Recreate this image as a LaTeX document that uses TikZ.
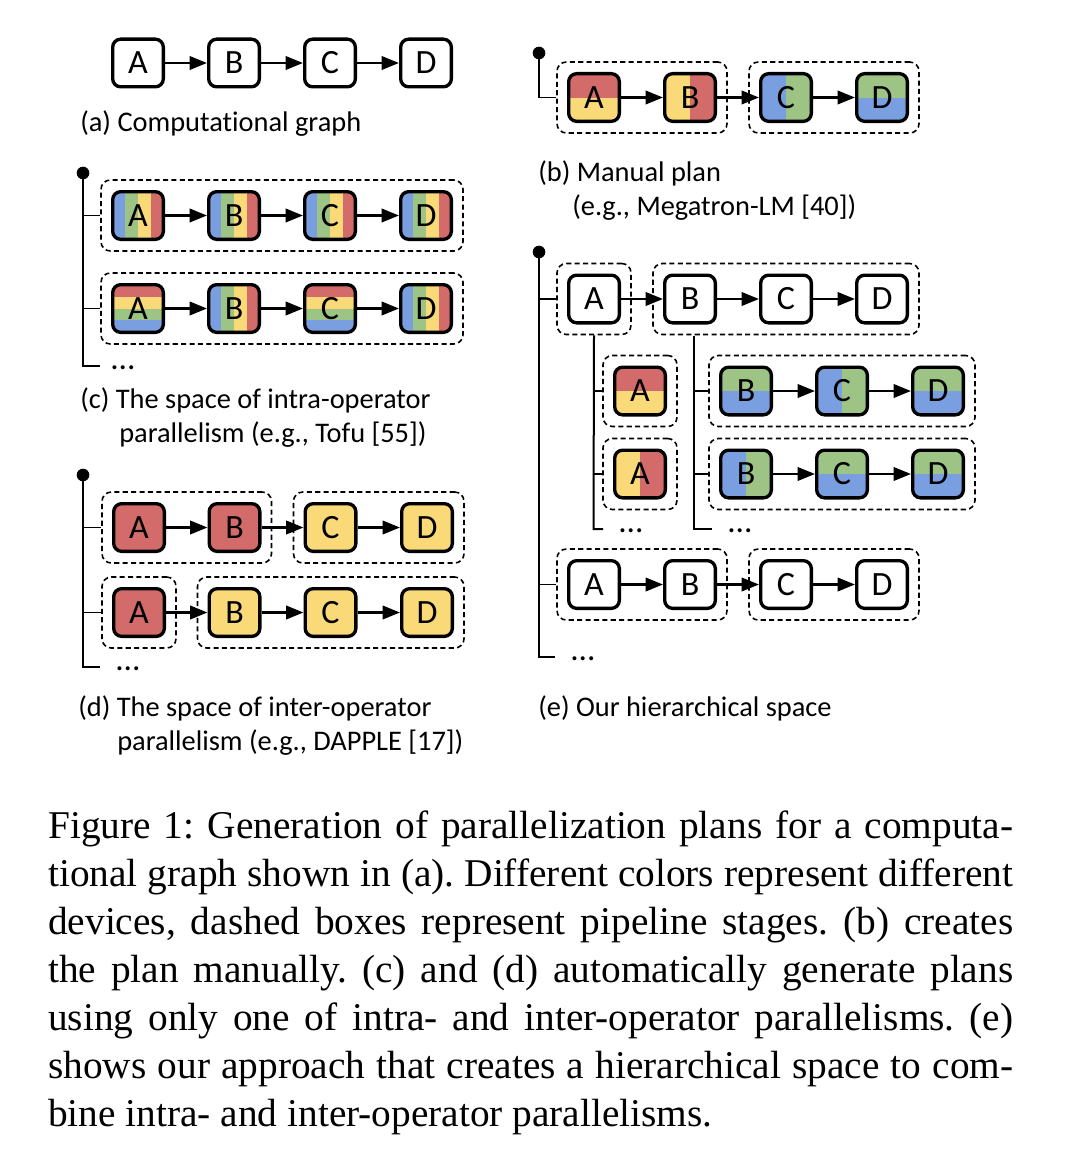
\documentclass[tikz,border=0pt]{standalone}
\usepackage{fontspec}
\setmainfont{Carlito}[Ligatures=NoCommon]
\newfontfamily\captionfnt{Liberation Serif}
\frenchspacing
\usetikzlibrary{arrows.meta,fit,calc}
\definecolor{cred}{RGB}{210,107,106}
\definecolor{cyel}{RGB}{249,217,120}
\definecolor{cgrn}{RGB}{158,196,133}
\definecolor{cblu}{RGB}{122,159,225}
\newcommand\opfnt{\fontsize{25.5}{30}\selectfont}
\newcommand\lblfnt{\fontsize{21.3}{25}\selectfont}
\def\pb{path picture bounding box}
\tikzset{
  op/.style={draw, line width=2.5pt, rounded corners=6pt, minimum width=38pt,
    minimum height=35.75pt, inner sep=0pt, font=\opfnt, fill=white},
  redbox/.style={fill=cred},
  yelbox/.style={fill=cyel},
  sq/.style={sharp corners},
  vsplit/.style n args={2}{path picture={
    \fill[#1,sq] (\pb.south west) rectangle (\pb.north);
    \fill[#2,sq] (\pb.south) rectangle (\pb.north east);}},
  hsplit/.style n args={2}{path picture={
    \fill[#1,sq] (\pb.north west) rectangle (\pb.east);
    \fill[#2,sq] (\pb.west) rectangle (\pb.south east);}},
  vfour/.style={path picture={
    \fill[cblu,sq] (\pb.south west) rectangle ($(\pb.north west)!0.25!(\pb.north east)$);
    \fill[cgrn,sq] ($(\pb.south west)!0.25!(\pb.south east)$) rectangle (\pb.north);
    \fill[cyel,sq] (\pb.south) rectangle ($(\pb.north west)!0.75!(\pb.north east)$);
    \fill[cred,sq] ($(\pb.south west)!0.75!(\pb.south east)$) rectangle (\pb.north east);}},
  hfour/.style={path picture={
    \fill[cred,sq] (\pb.north west) rectangle ($(\pb.north east)!0.25!(\pb.south east)$);
    \fill[cyel,sq] ($(\pb.north west)!0.25!(\pb.south west)$) rectangle (\pb.east);
    \fill[cgrn,sq] (\pb.west) rectangle ($(\pb.north east)!0.75!(\pb.south east)$);
    \fill[cblu,sq] ($(\pb.north west)!0.75!(\pb.south west)$) rectangle (\pb.south east);}},
  arr/.style={-{Triangle[length=13pt,width=10pt]}, line width=1.9pt},
  stage/.style={draw, dashed, dash pattern=on 3.8pt off 2.5pt, line width=1.2pt,
    rounded corners=7pt, inner xsep=7.5pt, inner ysep=7.5pt},
  trunk/.style={line width=1.5pt},
  branch/.style={line width=1.1pt},
  dot/.style={circle, fill=black, inner sep=0pt, minimum size=9.5pt},
  lbl/.style={anchor=base west, inner sep=0pt, font=\lblfnt},
  dotsl/.style={anchor=base west, inner sep=0pt, font=\fontsize{25}{30}\selectfont},
  captext/.style={anchor=base west, inner sep=0pt, font=\captionfnt\fontsize{29.5}{36}\selectfont},
}
\begin{document}
\begin{tikzpicture}[x=0.75pt,y=-0.75pt]
\useasboundingbox (0,0) rectangle (1066,1156);

% ---------- (a)
\node[op] (aA) at (138,63) {A};
\node[op] (aB) at (234,63) {B};
\node[op] (aC) at (330,63) {C};
\node[op] (aD) at (426,63) {D};
\draw[arr] (aA) -- (aB);
\draw[arr] (aB) -- (aC);
\draw[arr] (aC) -- (aD);
\node[lbl] (la) at (80,132) {(a) Computational graph};

% ---------- (c)
\node[op,vfour] (cA1) at (138,215.5) {A};
\node[op,vfour] (cB1) at (234,215.5) {B};
\node[op,vfour] (cC1) at (330,215.5) {C};
\node[op,vfour] (cD1) at (426,215.5) {D};
\node[op,hfour] (cA2) at (138,308.5) {A};
\node[op,vfour] (cB2) at (234,308.5) {B};
\node[op,hfour] (cC2) at (330,308.5) {C};
\node[op,vfour] (cD2) at (426,308.5) {D};
\foreach \r in {1,2}{
  \draw[arr] (cA\r) -- (cB\r);
  \draw[arr] (cB\r) -- (cC\r);
  \draw[arr] (cC\r) -- (cD\r);
}
\node[stage, fit=(cA1)(cD1)] (cS1) {};
\node[stage, fit=(cA2)(cD2)] (cS2) {};
\node[dot] (cdot) at (83,173) {};
\coordinate (cE) at (83,366);
\coordinate (cF) at (100,366);
\draw[trunk] (cdot.center) -- (cE) -- (cF);
\draw[branch] (cdot |- cS1.west) -- (cS1.west);
\draw[branch] (cdot |- cS2.west) -- (cS2.west);
\node[dotsl] (cdots) at (110,369) {...};
\node[lbl] (lc1) at (80,408) {(c) The space of intra-operator};
\node[lbl] (lc2) at (119,442) {parallelism (e.g., Tofu [55])};

% ---------- (d)
\node[op,redbox] (dA1) at (139,527.5) {A};
\node[op,redbox] (dB1) at (234.5,527.5) {B};
\node[op,yelbox] (dC1) at (330.5,527.5) {C};
\node[op,yelbox] (dD1) at (427,527.5) {D};
\node[op,redbox] (dA2) at (139,612.5) {A};
\node[op,yelbox] (dB2) at (234.5,612.5) {B};
\node[op,yelbox] (dC2) at (330.5,612.5) {C};
\node[op,yelbox] (dD2) at (427,612.5) {D};
\node[stage, fit=(dA1)(dB1)] (dS1) {};
\node[stage, fit=(dC1)(dD1)] (dS2) {};
\node[stage, fit=(dA2)] (dS3) {};
\node[stage, fit=(dB2)(dD2)] (dS4) {};
\foreach \r in {1,2}{
  \draw[arr] (dA\r) -- (dB\r);
  \draw[arr] (dB\r) -- (dC\r);
  \draw[arr] (dC\r) -- (dD\r);
}
\node[dot] (ddot) at (83,475) {};
\coordinate (dE) at (83,667);
\coordinate (dF) at (100,667);
\draw[trunk] (ddot.center) -- (dE) -- (dF);
\draw[branch] (ddot |- dS1.west) -- (dS1.west);
\draw[branch] (ddot |- dS3.west) -- (dS3.west);
\node[dotsl] (ddots) at (115,670) {...};
\node[lbl] (ld1) at (78,716) {(d) The space of inter-operator};
\node[lbl] (ld2) at (117,750) {parallelism (e.g., DAPPLE [17])};

% ---------- (b)
\node[op,hsplit={cred}{cyel}] (bA) at (594,97.5) {A};
\node[op,vsplit={cyel}{cred}] (bB) at (690,97.5) {B};
\node[op,vsplit={cblu}{cgrn}] (bC) at (786,97.5) {C};
\node[op,hsplit={cgrn}{cblu}] (bD) at (882,97.5) {D};
\node[stage, fit=(bA)(bB)] (bS1) {};
\node[stage, fit=(bC)(bD)] (bS2) {};
\draw[arr] (bA) -- (bB);
\draw[arr] (bB) -- (bC);
\draw[arr] (bC) -- (bD);
\node[dot] (bdot) at (539,53) {};
\draw[branch] (bdot.center) |- (bS1.west);
\node[lbl] (lb1) at (538,181) {(b) Manual plan};
\node[lbl] (lb2) at (572,215) {(e.g., Megatron-LM [40])};

% ---------- (e)
\node[op] (eA) at (594,299) {A};
\node[op] (eB) at (690,299) {B};
\node[op] (eC) at (786,299) {C};
\node[op] (eD) at (882,299) {D};
\node[stage, fit=(eA)] (eS1) {};
\node[stage, fit=(eB)(eD)] (eS2) {};
\draw[arr] (eA) -- (eB);
\draw[arr] (eB) -- (eC);
\draw[arr] (eC) -- (eD);

\node[op,hsplit={cred}{cyel}] (eA1) at (640,391) {A};
\node[op,vsplit={cyel}{cred}] (eA2) at (640,474) {A};
\node[stage, fit=(eA1)] (eSA1) {};
\node[stage, fit=(eA2)] (eSA2) {};

\node[op,hsplit={cgrn}{cblu}] (eB1) at (746,391) {B};
\node[op,vsplit={cblu}{cgrn}] (eC1) at (842,391) {C};
\node[op,hsplit={cgrn}{cblu}] (eD1) at (938,391) {D};
\node[op,vsplit={cblu}{cgrn}] (eB2) at (746,474) {B};
\node[op,hsplit={cgrn}{cblu}] (eC2) at (842,474) {C};
\node[op,hsplit={cgrn}{cblu}] (eD2) at (938,474) {D};
\node[stage, fit=(eB1)(eD1)] (eSB1) {};
\node[stage, fit=(eB2)(eD2)] (eSB2) {};
\foreach \r in {1,2}{
  \draw[arr] (eB\r) -- (eC\r);
  \draw[arr] (eC\r) -- (eD\r);
}

\node[op] (eA3) at (594,584.5) {A};
\node[op] (eB3) at (690,584.5) {B};
\node[op] (eC3) at (786,584.5) {C};
\node[op] (eD3) at (882,584.5) {D};
\node[stage, fit=(eA3)(eB3)] (eS3) {};
\node[stage, fit=(eC3)(eD3)] (eS4) {};
\draw[arr] (eA3) -- (eB3);
\draw[arr] (eB3) -- (eC3);
\draw[arr] (eC3) -- (eD3);

\node[dot] (edot) at (539,252) {};
\coordinate (eE) at (539,657);
\coordinate (eF) at (555,657);
\draw[trunk] (edot.center) -- (eE) -- (eF);
\draw[branch] (edot |- eS1.west) -- (eS1.west);
\draw[branch] (edot |- eS3.west) -- (eS3.west);
\node[dotsl] (edots) at (570,660) {...};

% subtree of A
\coordinate (eAt) at (eS1.south);
\coordinate (eAe) at (593.5,529);
\coordinate (eAf) at (603,529);
\draw[trunk] (eAt) -- (eAe) -- (eAf);
\draw[branch] (eAt |- eSA1.west) -- (eSA1.west);
\draw[branch] (eAt |- eSA2.west) -- (eSA2.west);
\node[dotsl] (eAdots) at (618,532) {...};

% subtree of B
\coordinate (eBt) at (694,335.5);
\coordinate (eBe) at (694,529);
\coordinate (eBf) at (712,529);
\draw[trunk] (eBt) -- (eBe) -- (eBf);
\draw[branch] (eBt |- eSB1.west) -- (eSB1.west);
\draw[branch] (eBt |- eSB2.west) -- (eSB2.west);
\node[dotsl] (eBdots) at (727,532) {...};

\node[lbl] (le) at (538,716) {(e) Our hierarchical space};

% ---------- caption
\node[captext] (k1) at (48,838) {\hbox to 723.75pt{Figure 1: Generation of parallelization plans for a computa-}};
\node[captext] (k2) at (48,886) {\hbox to 723.75pt{tional graph shown in (a). Different colors represent different}};
\node[captext] (k3) at (48,934) {\hbox to 723.75pt{devices, dashed boxes represent pipeline stages. (b) creates}};
\node[captext] (k4) at (48,982) {\hbox to 723.75pt{the plan manually. (c) and (d) automatically generate plans}};
\node[captext] (k5) at (48,1030) {\hbox to 723.75pt{using only one of intra- and inter-operator parallelisms. (e)}};
\node[captext] (k6) at (48,1078) {\hbox to 723.75pt{shows our approach that creates a hierarchical space to com-}};
\node[captext] (k7) at (48,1126) {bine intra- and inter-operator parallelisms.};
\end{tikzpicture}
\end{document}
